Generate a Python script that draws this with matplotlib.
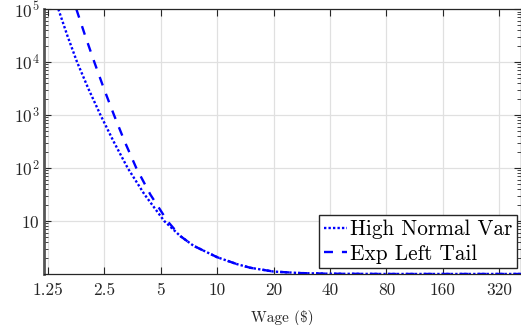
import matplotlib
matplotlib.use("Agg")
import matplotlib.pyplot as plt
from matplotlib.ticker import FixedLocator, FixedFormatter, LogLocator, NullLocator

plt.rcParams["font.family"] = ["cmr10", "DejaVu Serif"]
plt.rcParams["mathtext.fontset"] = "cm"
plt.rcParams["axes.unicode_minus"] = False
plt.rcParams["axes.formatter.use_mathtext"] = True

# Ratio curves by wage
wage_hnv = [1.419, 1.585, 1.786, 2.051, 2.382, 2.799, 3.327, 4.093, 5.212,
            6.35, 7.48, 10.0, 12.7, 15.0, 20.0, 27.7, 40.0, 80.0, 160.0, 320.0, 420.0]
high_normal_var = [1e5, 3.16e4, 1e4, 3.16e3, 1e3, 316, 100, 31.6, 10,
                   5.2, 3.4, 2.07, 1.54, 1.31, 1.11, 1.04, 1.01, 1.0, 1.0, 1.0, 1.0]

wage_elt = [1.770, 1.972, 2.208, 2.483, 2.812, 3.206, 3.698, 4.395, 5.420,
            6.35, 7.48, 10.0, 12.7, 15.0, 20.0, 27.7, 40.0, 80.0, 160.0, 320.0, 420.0]
exp_left_tail = [1e5, 3.16e4, 1e4, 3.16e3, 1e3, 316, 100, 31.6, 10,
                 5.2, 3.4, 2.07, 1.54, 1.31, 1.11, 1.04, 1.01, 1.0, 1.0, 1.0, 1.0]

x_ticks = [1.25, 2.5, 5, 10, 20, 40, 80, 160, 320]
x_tick_labels = ["1.25", "2.5", "5", "10", "20", "40", "80", "160", "320"]
y_ticks = [10, 1e2, 1e3, 1e4, 1e5]
y_tick_labels = ["$10$", "$10^2$", "$10^3$", "$10^4$", "$10^5$"]

fig = plt.figure(figsize=(5.21, 3.25), dpi=100)
ax = fig.add_axes([0.0845, 0.157, 0.9155, 0.815])

ax.plot(wage_hnv, high_normal_var, color="#0000ff", lw=1.7,
        linestyle=(0, (1.0, 0.9)), label="High Normal Var")
ax.plot(wage_elt, exp_left_tail, color="#0000ff", lw=1.7,
        linestyle=(0, (3.8, 3.8)), label="Exp Left Tail")

ax.set_xscale("log", base=2)
ax.set_yscale("log")
ax.set_xlim(1.19, 418)
ax.set_ylim(1, 1e5)

ax.xaxis.set_major_locator(FixedLocator(x_ticks))
ax.xaxis.set_major_formatter(FixedFormatter(x_tick_labels))
ax.xaxis.set_minor_locator(NullLocator())
ax.yaxis.set_major_locator(FixedLocator(y_ticks))
ax.yaxis.set_major_formatter(FixedFormatter(y_tick_labels))
ax.yaxis.set_minor_locator(LogLocator(base=10, subs=range(2, 10)))

ax.tick_params(which="both", direction="in", top=True, right=True,
               colors="#262626", labelcolor="#262626")
ax.tick_params(which="major", length=5, width=0.8, labelsize=12.5, pad=6)
ax.tick_params(which="minor", length=3, width=0.6)
ax.tick_params(axis="y", which="major", pad=3)

ax.grid(True, which="major", color="#e0e0e0", lw=0.9)
ax.set_axisbelow(True)
for side in ["top", "bottom", "right"]:
    ax.spines[side].set_color("#262626")
    ax.spines[side].set_linewidth(0.9)
ax.spines["left"].set_color("#555555")
ax.spines["left"].set_linewidth(2.0)

ax.set_xlabel("Wage (\\$)", fontsize=11, color="#262626", labelpad=9)

leg = ax.legend(loc="lower right", bbox_to_anchor=(0.992, 0.175),
                bbox_transform=fig.transFigure, borderaxespad=0,
                fancybox=False, framealpha=1, edgecolor="#262626",
                fontsize=15.3, handlelength=1.1, handletextpad=0.15,
                borderpad=0.2, labelspacing=0.25)
leg.get_frame().set_linewidth(1.0)

fig.savefig("out.png", dpi=100)
